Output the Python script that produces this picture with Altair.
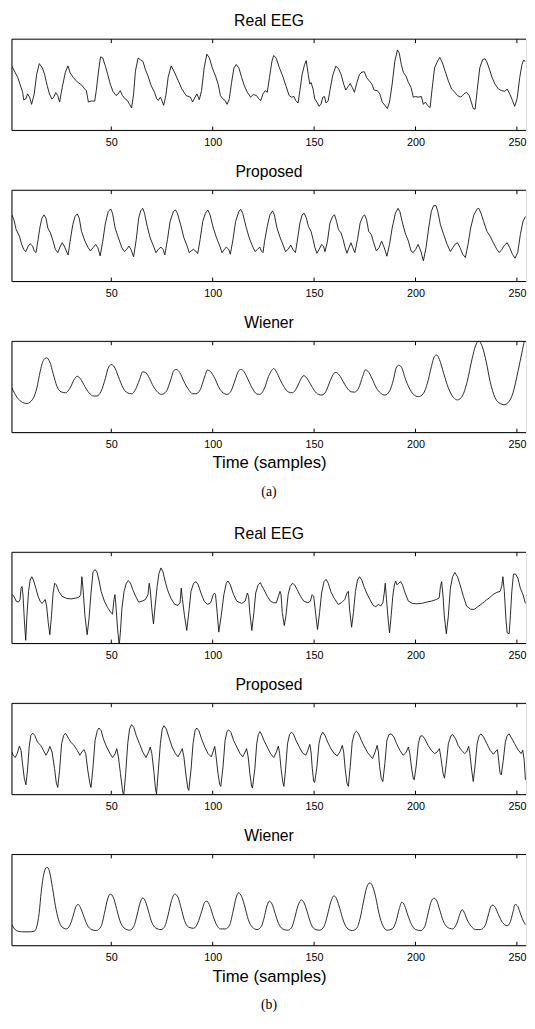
import altair as alt
import pandas as pd

TICKS = [50, 100, 150, 200, 250]
X_MIN, X_MAX = 1, 254.5

# (sample, amplitude), amplitude in arbitrary units
REAL_A = [(1.0,197),(3.9,162),(6.3,117),(6.8,94),(7.9,97),(8.7,112),(9.7,102),(10.7,80),(12.0,112),(13.2,172),(14.5,205),(16.0,192),(17.1,172),(18.4,137),(19.5,112),(20.7,96),(21.6,102),(22.6,116),(23.6,107),(24.5,87),(25.8,132),(27.3,177),(28.6,198),(29.7,177),(31.3,162),(33.2,149),(35.3,140),(36.9,127),(37.7,122),(38.7,87),(40.2,90),(41.8,90),(42.6,122),(43.7,182),(44.7,226),(45.8,222),(47.1,197),(48.2,172),(49.5,142),(50.8,120),(52.3,107),(53.4,112),(54.4,122),(55.5,107),(56.8,97),(57.9,92),(59.0,80),(60.0,69),(61.0,112),(61.9,182),(63.2,222),(64.3,217),(65.6,212),(66.8,187),(68.1,167),(69.7,137),(71.3,117),(72.4,97),(73.2,92),(74.2,102),(74.8,94),(75.8,77),(76.9,107),(78.0,162),(79.5,198),(80.9,182),(82.9,154),(84.8,127),(86.9,107),(89.0,102),(90.1,87),(91.3,102),(92.2,112),(93.4,94),(94.5,122),(95.8,192),(97.1,234),(98.4,222),(99.8,192),(101.4,167),(102.7,142),(103.8,107),(105.0,97),(106.1,92),(107.1,80),(108.2,97),(109.3,147),(110.5,192),(111.6,202),(112.9,192),(114.3,162),(115.6,137),(117.1,117),(118.7,102),(120.0,110),(121.6,107),(122.7,97),(123.7,92),
(124.8,112),(125.9,122),(126.9,117),(128.0,162),(129.2,212),(130.1,230),(131.3,222),(132.9,192),(134.5,167),(136.1,137),(137.7,107),(138.8,102),(140.1,104),(140.9,92),(142.1,84),(143.0,122),(144.1,172),(145.3,202),(146.1,214),(147.1,172),(147.9,142),(148.5,147),(149.5,127),(150.3,97),(151.4,87),(152.4,74),(153.4,80),(154.3,102),(155.1,104),(155.9,84),(156.9,90),(157.8,122),(159.1,167),(160.7,197),(162.0,190),(163.3,172),(164.6,142),(165.6,124),(166.7,134),(167.8,144),(168.8,132),(169.9,117),(171.1,147),(172.4,172),(173.6,179),(174.8,180),(175.9,162),(177.2,152),(178.5,142),(179.6,124),(181.2,122),(182.4,112),(183.6,87),(184.9,77),(186.1,67),(187.2,87),(188.5,142),(189.8,212),(191.1,247),(192.0,237),(193.0,202),(194.1,177),(195.3,167),(196.5,147),(197.8,132),(198.9,102),(200.1,104),(201.3,102),(202.9,104),(203.9,80),(204.9,87),(205.9,77),(207.2,70),(208.1,122),(209.4,192),(210.7,210),(212.0,224),(213.3,207),(214.6,182),(216.2,152),(217.8,127),(219.4,117),(220.7,107),(222.3,102),(223.9,112),(225.2,117),(226.5,107),(227.5,87),(228.5,67),(229.4,65),(230.4,122),(231.7,192),(233.1,217),(234.3,220),(235.2,210),(236.5,187),(237.8,162),(239.2,142),(240.9,127),(242.5,122),(244.1,120),(245.2,127),(246.5,112),(247.8,92),(248.9,74),(250.1,97),(251.4,162),(252.5,202),(253.3,215),(254.2,212)]

PROP_A = [(1.0,203),(2.0,188),(3.1,158),(4.7,138),(5.8,113),(6.8,98),(7.8,91),(9.1,108),(10.0,115),(11.2,108),(12.0,93),(12.9,88),(13.9,128),(14.9,168),(15.8,193),(16.8,203),(17.8,193),(18.7,163),(20.0,148),(21.3,123),(22.4,98),(23.6,88),(24.9,108),(25.8,118),(26.8,108),(27.8,93),(28.7,81),(29.7,123),(31.0,173),(32.1,198),(33.2,206),(34.2,193),(35.3,153),(37.0,123),(38.6,103),(39.7,93),(41.0,103),(42.3,113),(43.4,103),(44.5,78),(45.8,123),(47.1,178),(48.5,213),(49.7,221),(50.6,208),(51.9,163),(53.5,133),(55.2,103),(56.5,91),(57.6,98),(58.7,108),(59.7,98),(61.0,75),(62.3,128),(63.5,193),(64.5,215),(65.5,223),(66.4,208),(67.7,168),(69.2,133),(70.8,108),(72.0,88),(73.2,98),(74.5,105),(75.5,98),(76.4,81),(77.7,128),(79.0,183),(80.6,213),(81.6,218),(82.6,208),(84.2,173),(85.8,133),(87.4,108),(88.4,88),(89.3,93),(90.5,98),(91.6,93),(92.6,85),(93.8,128),(95.1,183),(96.4,208),(97.6,218),(98.7,203),(100.3,163),(101.9,133),(103.5,108),(104.6,88),(105.8,98),(106.7,105),(107.9,98),(108.7,83),(110.0,128),(111.3,183),(112.9,213),(113.8,220),(114.8,208),(116.4,168),(118.0,133),(119.6,108),(120.9,91),(122.1,98),(123.2,105),
(124.0,93),(124.8,88),(125.6,123),(126.9,168),(128.2,203),(129.5,215),(130.4,203),(131.7,163),(133.3,133),(134.9,108),(135.9,91),(137.2,98),(138.5,111),(139.5,98),(140.8,88),(141.7,123),(143.0,178),(144.1,203),(145.1,208),(146.2,193),(147.2,168),(148.5,153),(149.5,128),(150.4,103),(151.4,86),(152.5,98),(153.7,113),(154.6,108),(155.4,91),(156.6,123),(157.8,178),(159.1,198),(160.1,203),(161.1,183),(162.0,158),(163.3,148),(164.3,128),(165.3,103),(166.2,86),(167.2,103),(168.2,118),(169.1,103),(170.1,88),(171.4,128),(172.7,178),(174.0,198),(174.9,203),(175.9,188),(176.9,153),(178.2,143),(179.4,118),(180.7,93),(182.0,103),(183.3,123),(184.6,103),(185.9,77),(187.2,113),(188.5,163),(190.1,208),(191.4,223),(192.3,213),(193.6,178),(194.9,148),(196.5,123),(197.8,93),(198.9,88),(200.1,98),(201.3,113),(202.6,93),(203.9,63),(205.2,103),(206.5,163),(207.8,213),(208.9,231),(210.1,231),(211.0,213),(212.3,173),(213.9,143),(215.6,113),(217.2,91),(218.4,103),(219.7,115),(220.7,118),(222.0,103),(223.3,83),(224.6,73),(225.9,113),(227.2,163),(228.8,203),(230.4,221),(231.2,223),(232.3,208),(233.6,183),(235.2,153),(236.8,138),(238.4,118),(240.1,98),(241.3,88),(242.6,98),(243.9,111),(245.2,118),(246.5,103),(247.8,83),(249.1,71),(250.4,88),(251.7,143),(253.0,183),(254.2,198)]

WIEN_A = [(1.0,138),(3.1,113),(5.5,96),(8.4,90),(11.2,103),(13.3,138),(14.9,188),(16.5,223),(18.1,231),(19.7,218),(21.3,183),(23.2,143),(25.2,126),(27.4,123),(29.7,138),(31.6,163),(33.2,174),(34.8,166),(36.9,143),(39.0,123),(41.3,113),(42.9,113),(45.0,128),(47.1,168),(48.7,203),(50.0,210),(51.5,203),(53.5,173),(55.8,138),(57.9,123),(60.0,120),(61.9,133),(63.9,163),(65.5,188),(66.8,186),(68.4,173),(70.3,148),(72.4,128),(74.8,118),(77.2,128),(79.3,163),(81.0,193),(82.1,195),(83.7,186),(85.8,158),(88.1,133),(90.1,120),(91.8,120),(93.9,133),(95.8,168),(97.4,193),(99.0,188),(101.0,168),(103.0,140),(105.1,123),(107.1,118),(109.0,128),(111.1,163),(112.7,190),(114.0,195),(115.5,188),(117.5,163),(119.6,136),(121.6,120),(123.2,118),
(125.6,138),(127.5,173),(129.2,193),(130.1,198),(131.4,188),(133.3,163),(135.3,140),(137.2,126),(139.3,123),(141.4,138),(143.3,163),(144.9,176),(146.2,170),(148.2,150),(150.1,130),(152.2,118),(153.8,116),(155.9,128),(157.8,158),(159.8,183),(160.7,186),(162.4,178),(164.3,158),(166.2,138),(168.3,126),(169.9,125),(172.0,138),(173.9,173),(175.3,194),(176.5,190),(178.5,168),(180.7,138),(182.8,122),(184.9,116),(187.2,128),(189.1,163),(190.4,198),(191.7,208),(193.0,203),(194.9,168),(196.9,138),(199.0,118),(201.4,111),(203.8,120),(205.9,153),(207.8,203),(209.4,236),(210.4,240),(211.8,226),(213.9,183),(216.2,138),(218.8,108),(220.7,101),(223.1,113),(225.5,158),(227.9,228),(229.6,268),(231.2,283),(232.8,268),(234.9,218),(236.8,158),(239.2,108),(241.7,90),(243.6,86),(245.7,93),(248.1,123),(250.5,188),(252.5,248),(253.7,283),(254.6,298)]

REAL_B = [(1.0,150),(2.0,145),(3.1,130),(4.2,127),(5.0,135),(5.5,170),(6.0,175),(6.5,145),(7.1,75),(7.8,10),(8.4,85),(9.2,160),(10.0,195),(10.8,205),(11.6,195),(12.8,170),(13.9,145),(14.9,130),(15.8,123),(16.8,130),(17.4,135),(18.1,115),(18.9,65),(19.7,27),(20.5,85),(21.3,155),(22.1,185),(22.9,180),(24.1,160),(25.7,145),(28.1,138),(30.5,137),(32.9,140),(34.2,143),(34.9,150),(35.5,205),(36.1,165),(37.0,85),(38.1,27),(39.0,75),(40.0,155),(41.0,220),(42.0,227),(42.9,220),(43.9,195),(45.0,160),(46.6,130),(48.2,110),(49.8,95),(50.6,90),(51.3,135),(51.8,150),(52.3,115),(53.1,45),(53.9,-5),(54.5,35),(55.2,105),(56.3,160),(57.4,185),(58.4,193),(59.5,185),(60.6,165),(62.0,145),(63.5,127),(65.2,130),(66.8,135),(68.1,150),(68.7,185),(69.2,165),(70.0,105),(70.8,60),(71.6,115),(72.6,175),(73.5,215),(74.5,232),(75.5,220),(76.4,195),(77.7,165),(79.3,140),(81.3,120),(82.9,117),(83.9,125),(84.5,170),(85.1,135),(86.1,85),(87.2,40),(88.4,105),(89.3,160),(90.6,185),(91.8,190),(92.9,180),(94.2,155),(95.8,130),(97.4,120),(99.0,125),(100.3,150),(100.9,155),(101.4,150),(102.2,95),(103.0,35),(104.2,85),(105.5,150),(106.7,185),(107.5,192),(108.7,180),(110.3,150),(111.9,130),(114.3,123),(116.0,130),(117.1,155),(117.7,145),(118.3,95),(119.3,40),(120.3,95),(121.2,155),(122.4,180),(123.5,187),
(124.0,180),(125.3,165),(126.9,145),(128.5,130),(130.1,125),(131.4,125),(132.4,145),(133.2,160),(133.7,150),(134.3,95),(135.3,55),(136.1,85),(137.2,150),(138.2,175),(139.3,185),(140.4,180),(141.7,165),(143.3,145),(144.9,130),(146.9,125),(148.2,130),(149.0,150),(149.8,145),(150.8,90),(151.7,43),(152.7,95),(153.7,155),(154.9,190),(155.9,197),(157.0,185),(158.2,160),(159.8,140),(161.9,120),(163.5,125),(165.1,135),(166.2,155),(166.9,160),(167.5,105),(168.5,50),(169.4,95),(170.4,160),(171.4,195),(172.4,205),(173.5,195),(174.6,175),(175.9,155),(177.5,135),(179.1,117),(180.4,113),(181.7,120),(182.8,115),(183.9,125),(184.6,155),(185.1,185),(185.7,135),(186.5,75),(187.2,33),(188.0,85),(188.8,145),(189.6,180),(190.2,192),(190.9,180),(191.7,185),(192.7,190),(193.6,180),(194.9,155),(196.5,130),(198.5,123),(200.6,122),(203.0,123),(205.4,127),(207.8,130),(210.2,135),(211.7,140),(212.3,175),(212.9,190),(213.6,145),(214.2,85),(215.2,30),(216.2,85),(217.2,170),(218.3,205),(219.4,218),(220.7,205),(222.0,180),(223.6,145),(225.2,115),(227.2,105),(229.1,105),(230.7,113),(232.3,120),(233.9,128),(235.2,135),(236.5,140),(238.1,150),(240.1,157),(241.7,160),(242.5,175),(243.1,205),(243.8,160),(244.6,75),(245.2,33),(246.2,30),(246.8,85),(247.5,160),(248.3,213),(249.4,213),(250.5,200),(251.7,170),(253.0,150),(254.2,123)]

PROP_B = [(1.0,130),(1.6,120),(2.6,113),(3.6,125),(4.7,148),(5.5,135),(6.3,90),(7.1,50),(7.9,30),(8.7,75),(9.5,145),(10.3,180),(11.3,187),(12.3,180),(13.6,160),(15.2,150),(16.5,135),(17.8,120),(18.7,130),(19.7,147),(20.8,130),(22.0,80),(22.9,35),(23.6,22),(24.5,75),(25.5,155),(26.5,180),(27.4,187),(28.6,175),(30.0,160),(31.6,150),(33.2,135),(34.5,120),(35.5,130),(36.5,137),(37.4,125),(38.4,75),(39.4,35),(40.0,22),(41.0,85),(42.0,165),(43.1,195),(43.9,203),(45.0,195),(46.1,170),(47.7,145),(49.4,125),(50.6,113),(51.9,125),(52.7,140),(53.5,115),(54.5,65),(55.5,15),(56.1,-5),(57.1,65),(58.1,155),(59.0,200),(60.0,213),(61.1,205),(62.3,180),(63.9,155),(65.5,130),(67.1,113),(68.4,130),(69.2,145),(70.0,125),(71.0,70),(71.8,17),(72.3,2),(73.2,75),(74.2,155),(75.1,200),(76.0,210),(77.1,200),(78.4,175),(80.0,145),(81.6,125),(82.9,115),(84.2,130),(85.0,140),(85.8,115),(86.8,60),(87.7,20),(88.2,13),(89.3,75),(90.3,155),(91.3,195),(92.1,203),(93.2,195),(94.5,170),(96.1,145),(97.7,125),(99.3,115),(100.3,133),(101.0,147),(101.6,120),(102.6,65),(103.5,30),(104.0,25),(105.1,85),(106.1,165),(107.1,193),(107.9,197),(109.0,190),(110.3,165),(111.9,145),(113.5,125),(114.8,115),(116.0,130),(116.7,140),(117.5,115),(118.3,65),(119.2,25),(119.6,20),(120.8,80),(121.7,155),(122.5,183),(123.3,192),
(124.0,185),(125.3,165),(126.9,145),(128.5,125),(130.1,113),(131.4,130),(132.4,148),(133.0,125),(133.7,80),(134.5,40),(135.1,25),(135.9,75),(136.9,155),(137.9,183),(138.8,190),(139.8,185),(141.1,165),(142.7,145),(144.3,127),(145.9,120),(146.9,135),(147.9,153),(148.5,130),(149.1,80),(149.8,40),(150.3,37),(151.4,85),(152.4,155),(153.3,180),(154.3,190),(155.4,180),(156.7,160),(158.3,140),(159.9,125),(161.4,118),(162.7,130),(163.9,150),(164.6,130),(165.3,80),(166.2,35),(166.9,25),(167.8,85),(168.8,160),(169.9,187),(170.9,193),(172.0,185),(173.3,165),(174.9,145),(176.5,127),(178.8,110),(180.1,130),(181.1,150),(181.7,130),(182.3,85),(183.1,50),(183.9,40),(184.9,95),(185.9,165),(186.9,183),(188.1,185),(189.4,175),(190.7,155),(192.3,135),(193.9,120),(195.2,127),(196.5,145),(197.2,125),(198.2,75),(199.0,47),(199.4,45),(200.4,90),(201.4,155),(202.3,177),(203.3,180),(204.6,170),(206.2,150),(207.8,135),(209.4,125),(210.7,130),(211.8,140),(212.6,110),(213.6,65),(214.3,50),(215.2,95),(216.2,155),(217.5,180),(218.4,183),(219.8,170),(221.0,150),(222.7,135),(224.3,125),(225.2,130),(226.2,147),(226.8,125),(227.7,75),(228.5,40),(229.4,90),(230.4,155),(231.4,180),(232.3,185),(233.6,175),(235.2,155),(236.8,135),(238.4,123),(239.7,133),(240.4,137),(241.0,105),(241.7,65),(242.3,60),(243.3,105),(244.3,160),(245.2,180),(246.2,185),(247.3,173),(248.9,155),(250.5,137),(252.1,125),(252.9,135),(253.6,105),(254.2,45)]

WIEN_B = [(1.0,65),(2.3,52),(3.9,45),(6.3,43),(9.5,43),(12.0,45),(13.3,60),(14.4,100),(15.5,170),(16.8,225),(18.0,242),(18.7,242),(19.7,225),(21.0,180),(22.4,125),(24.0,80),(25.7,58),(27.8,52),(29.7,65),(31.3,95),(32.6,122),(33.7,128),(34.8,118),(36.5,90),(38.1,65),(40.2,50),(42.6,47),(45.0,60),(46.6,100),(48.2,145),(49.5,160),(51.0,150),(52.6,115),(54.2,78),(56.3,55),(59.0,48),(61.1,60),(62.7,95),(64.3,135),(65.5,148),(66.8,138),(68.4,105),(70.0,72),(71.9,55),(74.5,50),(76.4,60),(78.0,95),(79.7,140),(81.3,160),(82.9,150),(84.5,115),(86.1,78),(88.0,58),(90.6,54),(92.6,70),(94.5,105),(96.1,135),(97.1,138),(98.7,122),(100.3,90),(101.9,65),(103.8,52),(106.3,52),(108.4,65),(110.0,105),(111.6,150),(112.7,164),(114.3,152),(115.9,120),(117.5,82),(119.6,57),(121.9,50),
(124.0,60),(125.3,85),(126.6,120),(127.9,138),(129.2,130),(130.8,100),(132.4,70),(134.5,52),(136.9,48),(138.8,55),(140.4,85),(142.1,125),(143.7,142),(144.9,135),(146.6,105),(148.2,72),(150.1,52),(152.7,48),(154.9,60),(156.6,95),(158.2,135),(159.8,155),(161.1,145),(162.7,115),(164.3,80),(166.2,55),(168.8,47),(171.1,55),(172.7,85),(174.3,135),(175.9,180),(177.5,195),(178.8,185),(180.4,150),(182.0,100),(183.9,62),(186.1,48),(188.5,52),(190.4,75),(192.0,115),(193.3,135),(194.6,125),(196.2,95),(198.1,65),(200.1,50),(202.6,47),(204.6,60),(206.2,100),(207.8,138),(209.1,147),(210.4,140),(212.0,110),(213.6,78),(215.6,58),(218.3,52),(220.4,70),(222.0,100),(223.0,112),(223.9,105),(225.5,80),(227.5,60),(229.6,50),(232.0,50),(234.3,62),(235.9,95),(237.2,122),(238.1,126),(239.4,118),(241.0,95),(242.9,72),(245.2,62),(246.8,75),(248.1,105),(249.1,128),(250.4,122),(252.0,95),(253.3,75),(254.2,65)]

W, H = 524, 93
FONT = "Liberation Sans"


def panel(points, ymax, title, smooth, xtitle=None):
    df = pd.DataFrame(points, columns=["t", "v"])
    xs = alt.Scale(domain=[X_MIN, X_MAX], nice=False, zero=False)
    ys = alt.Scale(domain=[0, ymax], nice=False, zero=False)
    axis_kw = dict(values=TICKS, ticks=False, domain=False, grid=False,
                   labelFontSize=11, labelPadding=6, labelColor="black",
                   labelFont=FONT)
    if xtitle:
        axis_kw.update(title=xtitle, titleFontSize=17, titleFont=FONT,
                       titleFontWeight="normal", titleColor="black", titlePadding=6)
    else:
        axis_kw.update(title=None)
    xaxis = alt.Axis(**axis_kw)
    line = alt.Chart(df).mark_line(
        color="#111", strokeWidth=0.9, clip=True,
        interpolate="monotone" if smooth else "linear"
    ).encode(
        x=alt.X("t:Q", scale=xs, axis=xaxis),
        y=alt.Y("v:Q", scale=ys, axis=None),
    )
    tdf = pd.DataFrame({"t": TICKS})
    tick_b = alt.Chart(tdf).mark_rule(color="black", strokeWidth=1).encode(
        x=alt.X("t:Q", scale=xs, axis=xaxis), y=alt.value(H), y2=alt.value(H - 4))
    tick_t = alt.Chart(tdf).mark_rule(color="black", strokeWidth=1).encode(
        x=alt.X("t:Q", scale=xs, axis=xaxis), y=alt.value(0), y2=alt.value(4))
    fr = alt.Chart(pd.DataFrame({"k": [0]}))
    left = fr.mark_rule(color="black", strokeWidth=1).encode(
        x=alt.value(0), y=alt.value(0), y2=alt.value(H))
    top = fr.mark_rule(color="black", strokeWidth=1).encode(
        x=alt.value(0), x2=alt.value(W), y=alt.value(0))
    bottom = fr.mark_rule(color="black", strokeWidth=1).encode(
        x=alt.value(0), x2=alt.value(W), y=alt.value(H))
    return alt.layer(line, tick_b, tick_t, left, top, bottom).properties(
        width=W, height=H,
        title=alt.TitleParams(title, fontSize=16, font=FONT, fontWeight="normal",
                              color="black", offset=10, anchor="middle"))


def group(real, prop, wien, ymaxes, label):
    return alt.vconcat(
        panel(real, ymaxes[0], "Real EEG", False),
        panel(prop, ymaxes[1], "Proposed", False),
        panel(wien, ymaxes[2], "Wiener", True, "Time (samples)"),
        spacing=16,
    ).properties(title=alt.TitleParams(label, orient="bottom", anchor="middle",
                                       font="Liberation Serif", fontSize=14,
                                       fontWeight="normal", color="black", offset=14))


chart = alt.vconcat(
    group(REAL_A, PROP_A, WIEN_A, [280, 278, 282], "(a)"),
    group(REAL_B, PROP_B, WIEN_B, [280, 278, 283], "(b)"),
    spacing=27,
).properties(
    padding={"left": 3, "top": -5, "right": 0, "bottom": 0}
).configure_view(stroke=None).configure(background="white")

chart.save("out.html", embed_options={"renderer": "svg", "actions": False})
